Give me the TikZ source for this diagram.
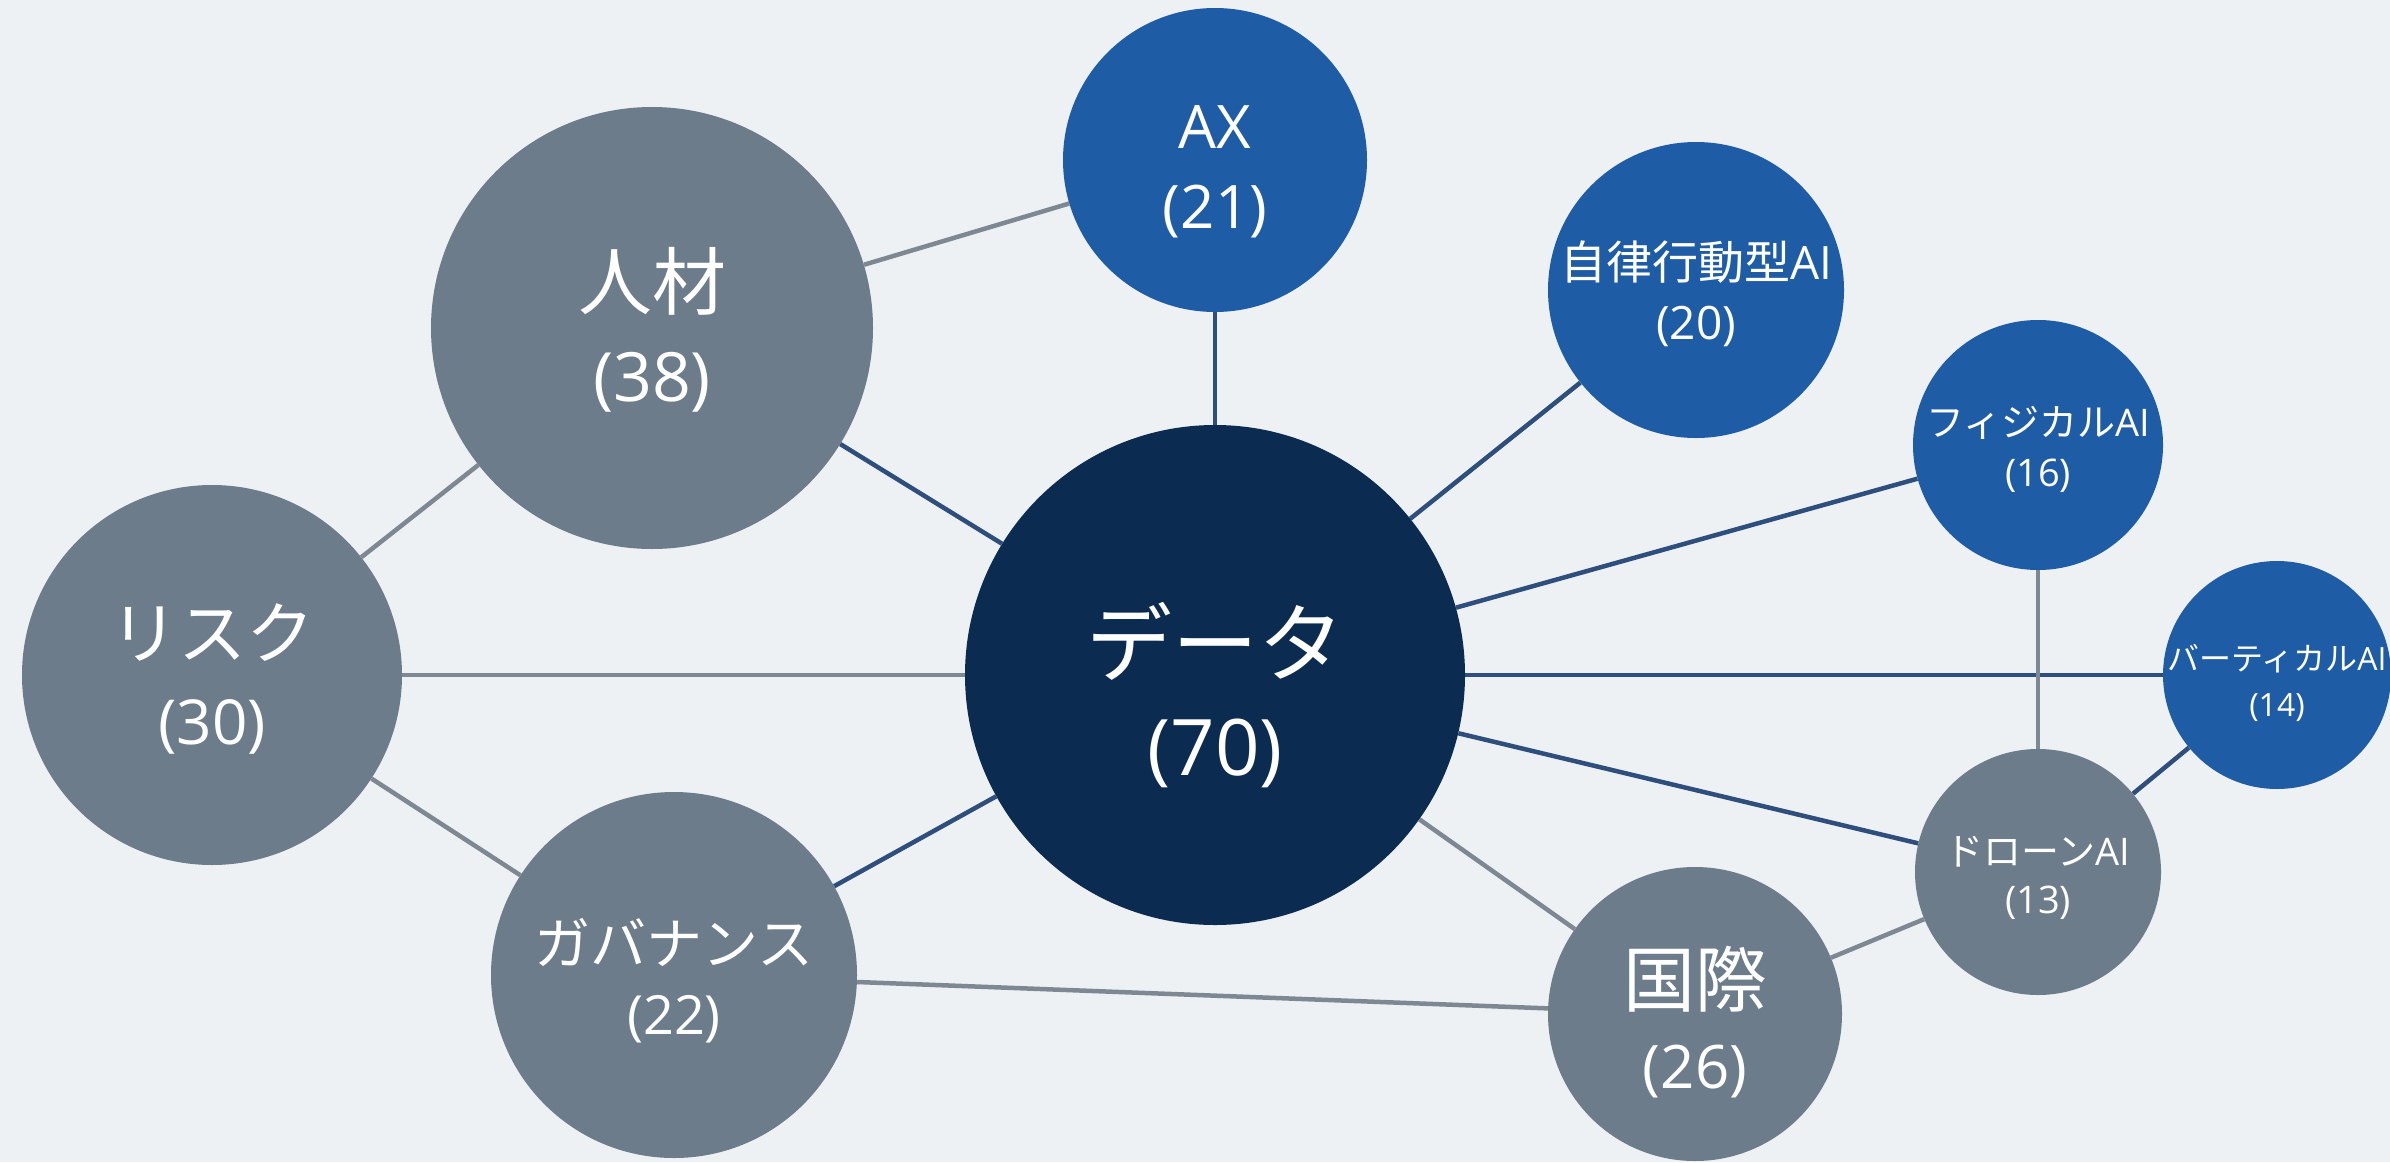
\documentclass[tikz,border=0pt]{standalone}
\usepackage{fontspec}
\newfontfamily\jp{Noto Sans CJK JP}
\newfontfamily\lat{Open Sans}
\definecolor{bgc}{HTML}{EDF1F4}
\definecolor{grayn}{HTML}{6C7C8B}
\definecolor{bluen}{HTML}{1F5CA6}
\definecolor{darkn}{HTML}{0C2B51}
\definecolor{grayl}{HTML}{7E8893}
\definecolor{bluel}{HTML}{2E4E7B}
\tikzset{
  bub/.style={circle, inner sep=0pt},
  gbub/.style={bub, fill=grayn},
  bbub/.style={bub, fill=bluen},
  dbub/.style={bub, fill=darkn},
  btxt/.style={text=white, align=center, inner sep=0pt},
  gline/.style={draw=grayl, line width=4.5pt},
  bline/.style={draw=bluel, line width=4.5pt},
}
\newcommand{\nm}[2]{{\lat\fontsize{#1}{#1}\selectfont #2}}
\begin{document}
\begin{tikzpicture}[x=1pt,y=-1pt]
\fill[bgc] (0,0) rectangle (2390,1162);
\useasboundingbox (0,0) rectangle (2390,1162);
\node[dbub, minimum size=500pt] (data) at (1215,675) {};
\node[btxt, yshift=-20pt, font={\jp\fontsize{86}{100}\selectfont}] (datat) at (data) {データ\\\nm{78}{(70)}};
\node[bbub, minimum size=304pt] (ax) at (1215,160) {};
\node[btxt, yshift=-12pt, font={\lat\fontsize{60}{80}\selectfont}] (axt) at (ax) {AX\\(21)};
\node[gbub, minimum size=442pt] (jinzai) at (652,328) {};
\node[btxt, yshift=-2pt, font={\jp\fontsize{74}{92}\selectfont}] (jinzait) at (jinzai) {人材\\\nm{68}{(38)}};
\node[gbub, minimum size=380pt] (risk) at (212,675) {};
\node[btxt, yshift=-4pt, font={\jp\fontsize{68}{86}\selectfont}] (riskt) at (risk) {リスク\\\nm{62}{(30)}};
\node[gbub, minimum size=366pt] (gov) at (674,975) {};
\node[btxt, yshift=-6pt, font={\jp\fontsize{56}{70}\selectfont}] (govt) at (gov) {ガバナンス\\\nm{54}{(22)}};
\node[gbub, minimum size=294pt] (kokusai) at (1695,1014) {};
\node[btxt, yshift=-8pt, font={\jp\fontsize{72}{82}\selectfont}] (kokusait) at (kokusai) {国際\\\nm{60}{(26)}};
\node[bbub, minimum size=296pt] (jiritsu) at (1696,290) {};
\node[btxt, yshift=-4pt, font={\jp\fontsize{46}{60}\selectfont}] (jiritsut) at (jiritsu) {自律行動型{\lat AI}\\{\lat(20)}};
\node[bbub, minimum size=250pt] (phys) at (2038,445) {};
\node[btxt, yshift=-4pt, font={\jp\fontsize{38}{50}\selectfont}] (physt) at (phys) {フィジカル{\lat AI}\\{\lat(16)}};
\node[bbub, minimum size=228pt] (vert) at (2277,675) {};
\node[btxt, yshift=-8pt, font={\jp\fontsize{32}{46}\selectfont}] (vertt) at (vert) {バーティカル{\lat AI}\\{\lat(14)}};
\node[gbub, minimum size=246pt] (drone) at (2038,872) {};
\node[btxt, yshift=-6pt, font={\jp\fontsize{38}{48}\selectfont}] (dronet) at (drone) {ドローン{\lat AI}\\{\lat(13)}};
\path[gline] (jinzai) -- (ax);
\path[bline] (ax) -- (data);
\path[bline] (jinzai) -- (data);
\path[gline] (jinzai) -- (risk);
\path[gline] (risk) -- (data);
\path[gline] (risk) -- (gov);
\path[bline] (gov) -- (data);
\path[gline] (gov) -- (kokusai);
\path[bline] (data) -- (jiritsu);
\path[bline] (data) -- (phys);
\path[bline] (data) -- (vert);
\path[bline] (data) -- (drone);
\path[gline] (data) -- (kokusai);
\path[gline] (phys) -- (drone);
\path[bline] (vert) -- (drone);
\path[gline] (kokusai) -- (drone);
\end{tikzpicture}
\end{document}
